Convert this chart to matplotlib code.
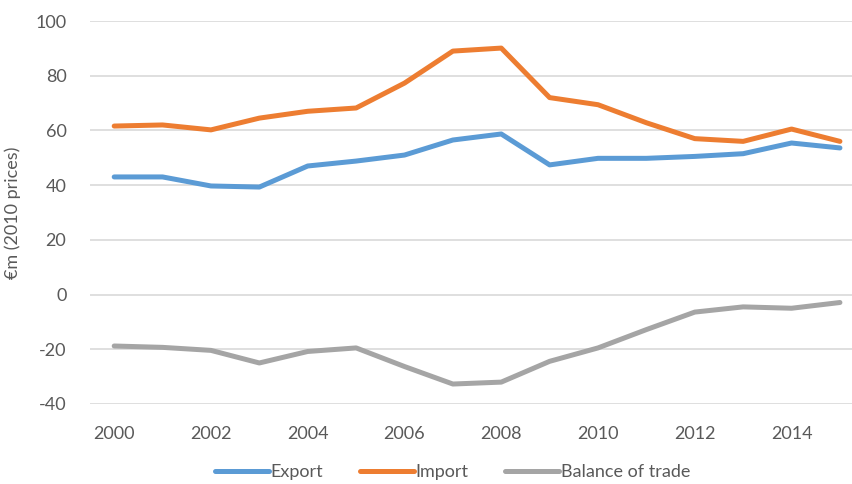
import matplotlib.pyplot as plt
import numpy as np

years = np.arange(2000, 2016)
export = [43.0, 43.0, 39.7, 39.3, 47.0, 48.8, 51.0, 56.5, 58.7, 47.4, 49.8, 49.8, 50.5, 51.5, 55.4, 53.6]
imports = [61.6, 62.0, 60.2, 64.5, 67.0, 68.2, 77.3, 89.0, 90.1, 72.0, 69.4, 62.8, 57.0, 56.0, 60.5, 56.0]
balance = [-18.8, -19.3, -20.4, -25.0, -20.8, -19.5, -26.3, -32.7, -32.0, -24.4, -19.5, -12.8, -6.4, -4.5, -5.0, -2.9]

plt.rcParams['font.family'] = ['Lato', 'DejaVu Sans']
plt.rcParams['axes.unicode_minus'] = False

fig = plt.figure(figsize=(8.53, 4.84), dpi=100)
ax = fig.add_axes([90 / 853, 80 / 484, 1 - 90 / 853, 383 / 484])

lw = 3.6
ax.plot(years, export, color='#5B9BD5', lw=lw, label='Export', solid_capstyle='round')
ax.plot(years, imports, color='#ED7D31', lw=lw, label='Import', solid_capstyle='round')
ax.plot(years, balance, color='#A5A5A5', lw=lw, label='Balance of trade', solid_capstyle='round')

ax.set_ylim(-40, 100)
ax.set_yticks(np.arange(-40, 101, 20))
ax.set_xlim(1999.5, 2015.27)
ax.set_xticks(np.arange(2000, 2015, 2))
ax.grid(axis='y', color='#D9D9D9', lw=1.2)
ax.set_axisbelow(True)
for s in ax.spines.values():
    s.set_visible(False)
ax.tick_params(length=0, labelsize=13, colors='#595959')
ax.tick_params(axis='x', pad=16)
ax.tick_params(axis='y', pad=17)

ax.set_ylabel('€m (2010 prices)', fontsize=13, color='#595959', labelpad=10)

ax.legend(loc='upper center', bbox_to_anchor=(0.475, -0.115), ncol=3, frameon=False,
          fontsize=13, labelcolor='#595959', handlelength=3.0, handletextpad=0.1,
          columnspacing=2.0)

fig.savefig('out.png', dpi=100)
